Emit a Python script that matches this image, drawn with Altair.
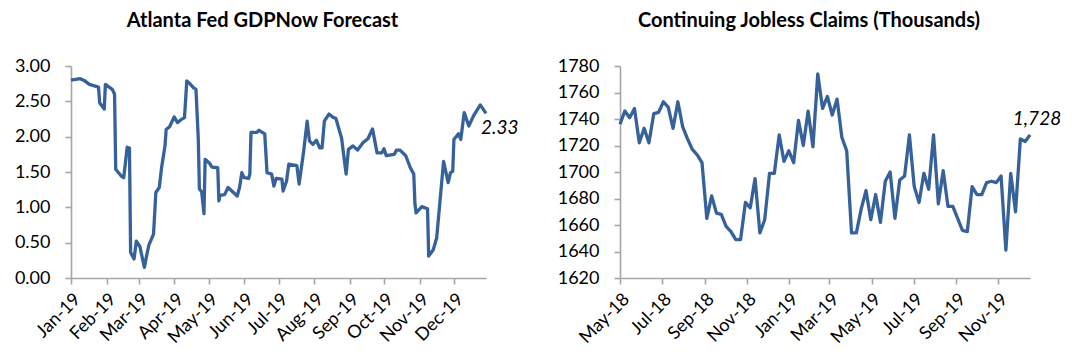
import altair as alt
import pandas as pd

# ---------------- Data: Atlanta Fed GDPNow (2019) ----------------
gdp_dates = [
    "2019-01-01", "2019-01-09", "2019-01-13", "2019-01-17", "2019-01-25", "2019-01-26",
    "2019-01-30", "2019-01-31", "2019-02-06", "2019-02-08", "2019-02-09", "2019-02-14",
    "2019-02-16", "2019-02-19", "2019-02-21", "2019-02-22", "2019-02-25", "2019-02-27",
    "2019-03-02", "2019-03-06", "2019-03-08", "2019-03-10", "2019-03-14", "2019-03-16",
    "2019-03-19", "2019-03-21", "2019-03-24", "2019-03-25", "2019-03-28", "2019-04-01",
    "2019-04-04", "2019-04-07", "2019-04-10", "2019-04-12", "2019-04-14", "2019-04-18",
    "2019-04-20", "2019-04-22", "2019-04-23", "2019-04-25", "2019-04-27", "2019-04-28",
    "2019-05-02", "2019-05-04", "2019-05-09", "2019-05-10", "2019-05-11", "2019-05-15",
    "2019-05-18", "2019-05-26", "2019-05-28", "2019-05-30", "2019-06-01", "2019-06-05",
    "2019-06-06", "2019-06-07", "2019-06-12", "2019-06-14", "2019-06-19", "2019-06-21",
    "2019-06-25", "2019-06-27", "2019-06-29", "2019-07-04", "2019-07-05", "2019-07-08",
    "2019-07-10", "2019-07-17", "2019-07-19", "2019-07-23", "2019-07-26", "2019-07-28",
    "2019-07-31", "2019-08-03", "2019-08-06", "2019-08-08", "2019-08-10", "2019-08-14",
    "2019-08-18", "2019-08-20", "2019-08-25", "2019-08-29", "2019-08-31", "2019-09-04",
    "2019-09-08", "2019-09-13", "2019-09-17", "2019-09-21", "2019-09-25", "2019-09-29",
    "2019-10-01", "2019-10-03", "2019-10-10", "2019-10-12", "2019-10-15", "2019-10-20",
    "2019-10-24", "2019-10-27", "2019-10-28", "2019-10-29", "2019-11-03", "2019-11-08",
    "2019-11-09", "2019-11-13", "2019-11-16", "2019-11-22", "2019-11-26", "2019-11-28",
    "2019-11-30", "2019-12-01", "2019-12-05", "2019-12-07", "2019-12-10", "2019-12-14",
    "2019-12-18", "2019-12-24", "2019-12-29",
]
gdp_values = [
    2.80, 2.82, 2.79, 2.74, 2.70, 2.48,
    2.39, 2.74, 2.67, 2.60, 1.54, 1.44,
    1.42, 1.85, 1.84, 0.36, 0.27, 0.52,
    0.45, 0.15, 0.32, 0.47, 0.62, 1.21,
    1.28, 1.56, 1.87, 2.10, 2.14, 2.28,
    2.20, 2.24, 2.27, 2.79, 2.76, 2.69,
    2.67, 1.98, 1.26, 1.22, 0.91, 1.68,
    1.62, 1.57, 1.56, 1.09, 1.17, 1.18,
    1.28, 1.16, 1.28, 1.49, 1.42, 1.41,
    1.47, 2.06, 2.06, 2.09, 2.04, 1.49,
    1.47, 1.30, 1.41, 1.40, 1.23, 1.37,
    1.61, 1.59, 1.33, 1.80, 2.22, 1.94,
    1.89, 1.95, 1.84, 1.84, 2.22, 2.32,
    2.27, 2.26, 1.98, 1.47, 1.82, 1.87,
    1.81, 1.92, 1.97, 2.11, 1.77, 1.77,
    1.83, 1.73, 1.75, 1.81, 1.81, 1.73,
    1.56, 1.47, 1.05, 0.92, 1.01, 0.98,
    0.31, 0.40, 0.57, 1.65, 1.35, 1.49,
    1.51, 1.96, 2.04, 1.96, 2.34, 2.15,
    2.29, 2.45, 2.33,
]
gdp_ticks = ["2019-%02d-01" % m for m in range(1, 13)]

# ---------------- Data: Continuing jobless claims (weekly, thousands) ----------------
claims_start = "2018-05-05"
claims_values = [
    1736, 1746, 1741, 1748, 1722, 1733, 1722, 1744, 1745, 1753,
    1749, 1733, 1753, 1734, 1725, 1717, 1713, 1707, 1665, 1682,
    1669, 1668, 1659, 1655, 1649, 1649, 1677, 1673, 1695, 1654,
    1664, 1699, 1699, 1728, 1708, 1716, 1707, 1739, 1720, 1746,
    1719, 1774, 1748, 1757, 1743, 1755, 1726, 1716, 1654, 1654,
    1672, 1686, 1664, 1683, 1662, 1693, 1700, 1665, 1694, 1697,
    1728, 1689, 1677, 1699, 1687, 1728, 1676, 1701, 1674, 1674,
    1665, 1656, 1655, 1689, 1683, 1683, 1692, 1693, 1692, 1697,
    1641, 1699, 1670, 1725, 1723, 1728,
]
claims_dates = list(pd.date_range(claims_start, periods=len(claims_values), freq="7D").strftime("%Y-%m-%d"))
claims_ticks = ["2018-05-05", "2018-07-05", "2018-09-05", "2018-11-05", "2019-01-05",
                "2019-03-05", "2019-05-05", "2019-07-05", "2019-09-05", "2019-11-05"]

gdp_df = pd.DataFrame({"date": gdp_dates, "value": gdp_values})
claims_df = pd.DataFrame({"date": claims_dates, "value": claims_values})

LINE = "#36619A"
AX = "#A6A6A6"
FONT = "Lato"


def dt(s):
    y, m, d = (int(p) for p in s.split("-"))
    return alt.DateTime(year=y, month=m, date=d, utc=True)


def panel(df, title, ydom, ystep, yfmt, xticks, xdom, txtfmt, dx, dy, align, width):
    x = alt.X(
        "date:T",
        scale=alt.Scale(type="utc", domain=[dt(xdom[0]), dt(xdom[1])]),
        axis=alt.Axis(values=[dt(t) for t in xticks], format="%b-%y", labelAngle=315,
                      labelOverlap=False, title=None, grid=False),
    )
    yvals = []
    v = ydom[0]
    while v <= ydom[1] + 1e-9:
        yvals.append(round(v, 4))
        v += ystep
    y = alt.Y(
        "value:Q",
        scale=alt.Scale(domain=ydom, nice=False, zero=False),
        axis=alt.Axis(values=yvals, format=yfmt, title=None, grid=False, labelOverlap=False),
    )
    line = alt.Chart(df).mark_line(color=LINE, strokeWidth=3.3, strokeJoin="round").encode(x=x, y=y)
    last = df.tail(1)
    label = alt.Chart(last).mark_text(
        font=FONT, fontSize=19, fontStyle="italic", color="#000000",
        align=align, baseline="middle", dx=dx, dy=dy,
    ).encode(x=x, y=y, text=alt.Text("value:Q", format=txtfmt))
    return alt.layer(line, label).properties(
        width=width, height=212,
        title=alt.TitleParams(title, font=FONT, fontSize=20, fontWeight="bold",
                              anchor="middle", offset=26, dx=-16, color="#000000"),
    )


left = panel(gdp_df, "Atlanta Fed GDPNow Forecast", [0, 3], 0.5, ".2f", gdp_ticks,
             ["2019-01-01", "2019-12-29"], ".2f", -5, 15, "left", 415)
right = panel(claims_df, "Continuing Jobless Claims (Thousands)", [1620, 1780], 20, "d",
              claims_ticks, ["2018-05-05", "2019-12-21"], ",d", 7, -16, "center", 410)

chart = alt.hconcat(left, right, spacing=134, bounds="flush").properties(
    padding={"left": 14, "top": 11, "right": 5, "bottom": 5}
).configure_view(stroke=None).configure_axis(
    domainColor=AX, domainWidth=1.6, tickColor=AX, tickWidth=1.6, tickSize=6,
    labelFont=FONT, labelFontSize=18, labelColor="#000000", labelPadding=15,
).configure_axisX(labelFontSize=18, labelPadding=6)

chart.save("out.html", embed_options={"renderer": "svg", "actions": False})
